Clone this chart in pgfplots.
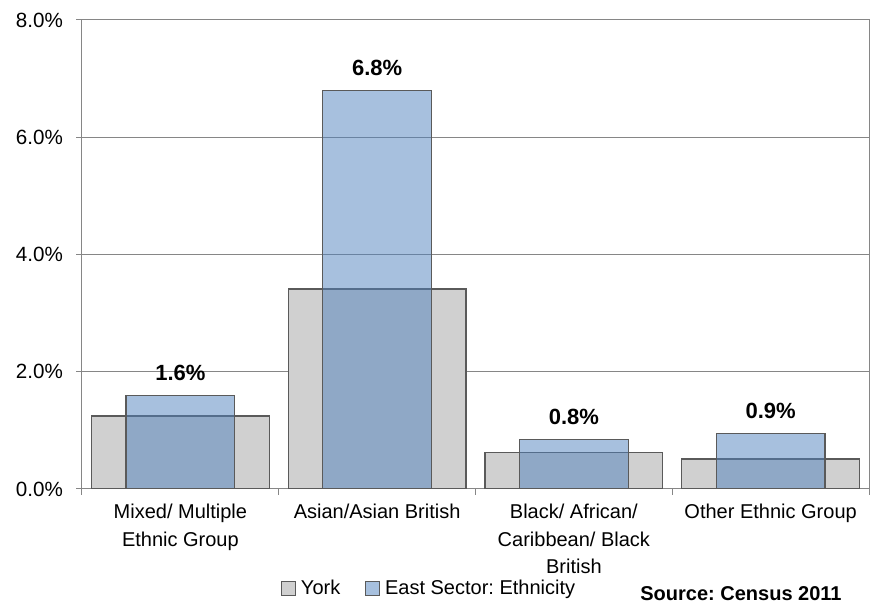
\documentclass[border=0pt]{standalone}
\usepackage{fontspec}
\setmainfont{Liberation Sans}
\usepackage{pgfplots}
\pgfplotsset{compat=1.18}

\definecolor{yorkfill}{HTML}{D0D0D0}
\definecolor{eastblue}{HTML}{4F81BD}
\definecolor{barline}{HTML}{5A5A5A}
\definecolor{gridgray}{HTML}{868686}

\begin{document}
\frenchspacing
\begin{tikzpicture}
\begin{axis}[
  name=ax,
  scale only axis,
  width=393.5pt, height=234.5pt,
  ybar, bar shift=0pt,
  xmin=0.5, xmax=4.5,
  ymin=0, ymax=8,
  xtick={1,2,3,4},
  xticklabels={Mixed/ Multiple\\Ethnic Group, Asian/Asian British, Black/ African/\\Caribbean/ Black\\British, Other Ethnic Group},
  xticklabel style={align=center, font=\fontsize{10}{13.8}\selectfont, yshift=-1pt},
  major x tick style={draw=none},
  minor xtick={0.5,1.5,2.5,3.5,4.5},
  minor x tick style={gridgray},
  xtick pos=bottom, ytick pos=left,
  ytick={0,2,4,6,8},
  yticklabels={0.0\%,2.0\%,4.0\%,6.0\%,8.0\%},
  yticklabel style={font=\fontsize{10.3}{12}\selectfont, xshift=-3pt},
  tick align=outside,
  major tick length=3pt, minor tick length=3pt,
  y tick style={gridgray},
  ymajorgrids, grid style={gridgray, line width=0.5pt},
  axis line style={gridgray, line width=0.5pt},
  tick style={line width=0.5pt},
  legend columns=2,
  legend style={at={(0.441,-0.212)}, anchor=center, draw=none, fill=none,
    font=\fontsize{10}{12}\selectfont, column sep=1.5pt,
    nodes={inner sep=1.2pt},
    /tikz/every even column/.append style={column sep=11pt}},
  legend image code/.code={\draw[#1, draw=barline, line width=0.5pt] (0pt,-3.5pt) rectangle (7pt,3.5pt);},
]
\addplot[fill=yorkfill, draw=barline, line width=0.6pt, bar width=0.904] coordinates {
  (1,1.245) (2,3.41) (3,0.62) (4,0.51)
};
\addlegendentry{York}
\addplot[fill=eastblue, fill opacity=0.5, draw=barline, line width=0.6pt, bar width=0.553,
  point meta=explicit symbolic,
  nodes near coords,
  nodes near coords style={anchor=south, font=\bfseries\fontsize{11}{13}\selectfont, text opacity=1, yshift=3.5pt}]
  coordinates {
  (1,1.6) [1.6\%]
  (2,6.8) [6.8\%]
  (3,0.85) [0.8\%]
  (4,0.95) [0.9\%]
};
\addlegendentry{East Sector: Ethnicity}
\end{axis}
\node[anchor=north west, inner sep=0pt, font=\bfseries\fontsize{10}{12}\selectfont]
  at ([xshift=279pt,yshift=-48.5pt]ax.south west) {Source: Census 2011};
\pgfresetboundingbox
\path ([xshift=-41pt,yshift=-56.5pt]ax.south west) rectangle ([xshift=5pt,yshift=10pt]ax.north east);
\end{tikzpicture}
\end{document}
